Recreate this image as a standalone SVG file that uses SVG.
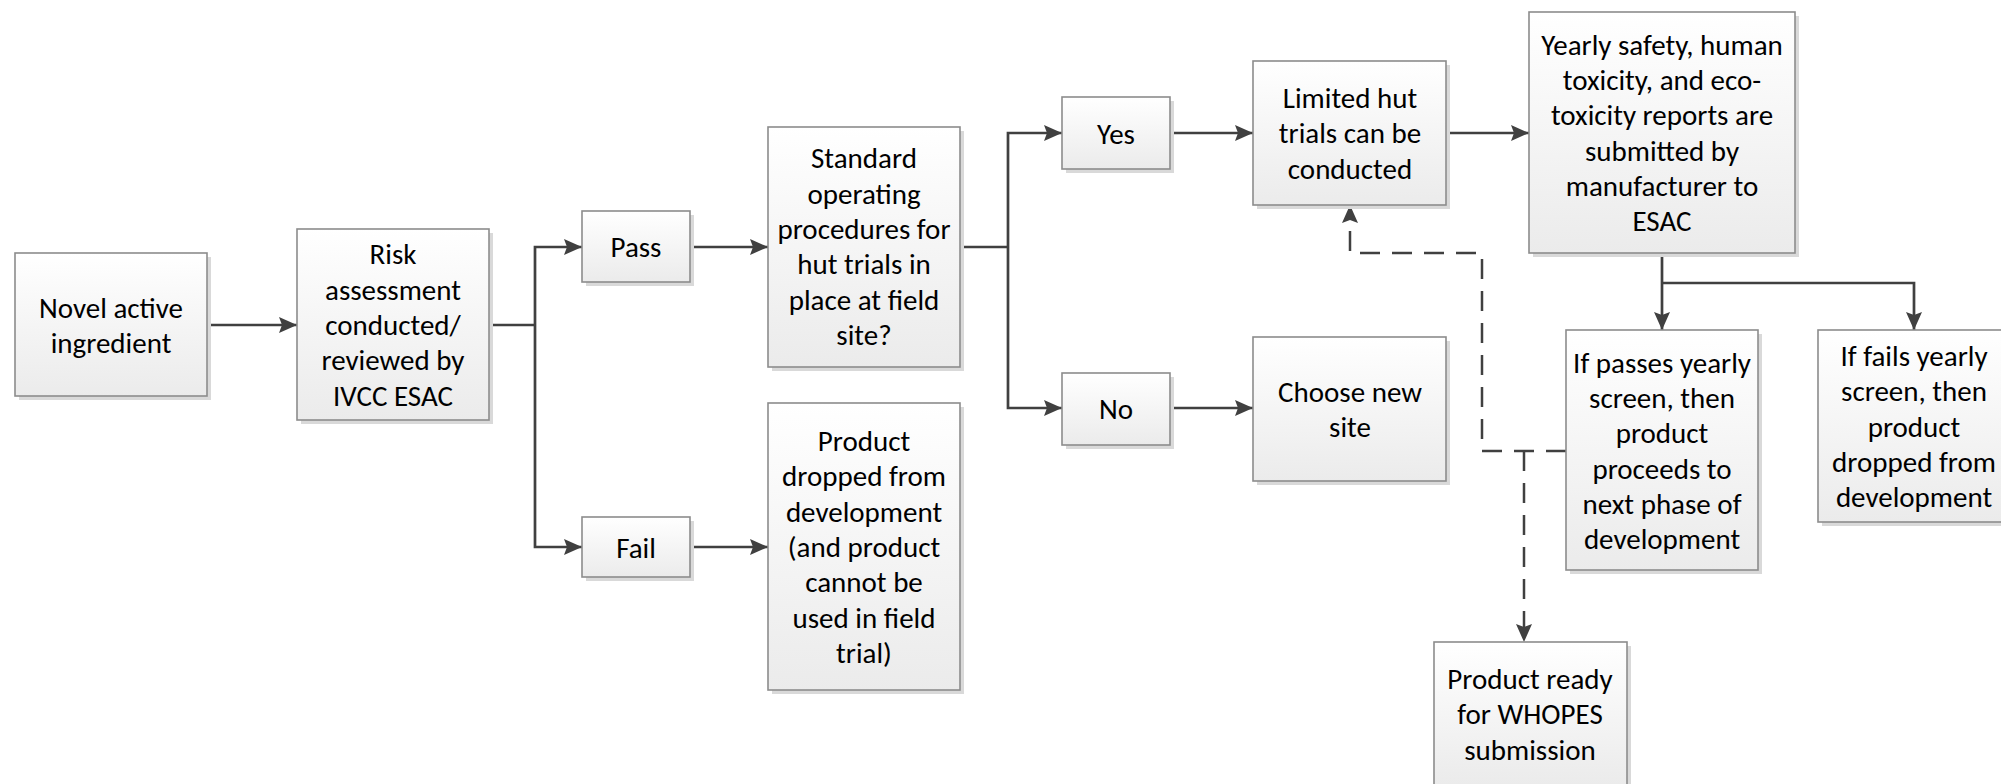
<svg xmlns="http://www.w3.org/2000/svg" width="2001" height="784" viewBox="0 0 2001 784">
  <defs>
    <linearGradient id="boxFill" x1="0" y1="0" x2="0" y2="1">
      <stop offset="0" stop-color="#ffffff"/>
      <stop offset="1" stop-color="#ebebeb"/>
    </linearGradient>
    <marker id="arrow" viewBox="0 0 18 16" refX="18" refY="8" markerWidth="18" markerHeight="16" markerUnits="userSpaceOnUse" orient="auto">
      <path d="M0,0 L18,8 L0,16 L3,8 Z" fill="#404040"/>
    </marker>
  </defs>
  <style>
    .shadow { fill: #d9d9d9; }
    .box { fill: url(#boxFill); stroke: #8c8c8c; stroke-width: 1.6; }
    .label { font-family: Carlito, Lato, "Open Sans", sans-serif; font-size: 29px; fill: #000000; text-anchor: middle; }
    .conn { fill: none; stroke: #404040; stroke-width: 2.7; }
    .dash { fill: none; stroke: #404040; stroke-width: 2.5; stroke-dasharray: 20 12; }
  </style>
  <rect width="2001" height="784" fill="#ffffff"/>

  <!-- connectors -->
  <g id="connectors">
    <path class="conn" d="M207,325 H297" marker-end="url(#arrow)"/>
    <path class="conn" d="M489,325 H535"/>
    <path class="conn" d="M535,325 V247 H582" marker-end="url(#arrow)"/>
    <path class="conn" d="M535,325 V547 H582" marker-end="url(#arrow)"/>
    <path class="conn" d="M690,247 H768" marker-end="url(#arrow)"/>
    <path class="conn" d="M690,547 H768" marker-end="url(#arrow)"/>
    <path class="conn" d="M960,247 H1008"/>
    <path class="conn" d="M1008,247 V133 H1062" marker-end="url(#arrow)"/>
    <path class="conn" d="M1008,247 V408 H1062" marker-end="url(#arrow)"/>
    <path class="conn" d="M1170,133 H1253" marker-end="url(#arrow)"/>
    <path class="conn" d="M1170,408 H1253" marker-end="url(#arrow)"/>
    <path class="conn" d="M1446,133 H1529" marker-end="url(#arrow)"/>
    <path class="conn" d="M1662,253 V330" marker-end="url(#arrow)"/>
    <path class="conn" d="M1662,283 H1914 V330" marker-end="url(#arrow)"/>
    <path class="dash" d="M1566,451 H1482 V253 H1350 V205" marker-end="url(#arrow)"/>
    <path class="dash" d="M1524,451 V642" marker-end="url(#arrow)"/>
  </g>

  <g id="novel">
    <rect class="shadow" x="19" y="257" width="192" height="143"/>
    <rect class="box" x="15" y="253" width="192" height="143"/>
    <text class="label"><tspan x="111" y="317.5">Novel active</tspan><tspan x="111" y="352.8">ingredient</tspan></text>
  </g>

  <g id="risk">
    <rect class="shadow" x="301" y="233" width="192" height="191"/>
    <rect class="box" x="297" y="229" width="192" height="191"/>
    <text class="label"><tspan x="393" y="264.4">Risk</tspan><tspan x="393" y="299.7">assessment</tspan><tspan x="393" y="335">conducted/</tspan><tspan x="393" y="370.3">reviewed by</tspan><tspan x="393" y="405.6">IVCC ESAC</tspan></text>
  </g>

  <g id="pass">
    <rect class="shadow" x="586" y="215" width="108" height="71"/>
    <rect class="box" x="582" y="211" width="108" height="71"/>
    <text class="label" x="636" y="257">Pass</text>
  </g>

  <g id="fail">
    <rect class="shadow" x="586" y="521" width="108" height="60"/>
    <rect class="box" x="582" y="517" width="108" height="60"/>
    <text class="label" x="636" y="557.5">Fail</text>
  </g>

  <g id="sop">
    <rect class="shadow" x="772" y="131" width="192" height="240"/>
    <rect class="box" x="768" y="127" width="192" height="240"/>
    <text class="label"><tspan x="864" y="168.3">Standard</tspan><tspan x="864" y="203.6">operating</tspan><tspan x="864" y="238.9">procedures for</tspan><tspan x="864" y="274.2">hut trials in</tspan><tspan x="864" y="309.5">place at field</tspan><tspan x="864" y="344.8">site?</tspan></text>
  </g>

  <g id="dropped">
    <rect class="shadow" x="772" y="407" width="192" height="287"/>
    <rect class="box" x="768" y="403" width="192" height="287"/>
    <text class="label"><tspan x="864" y="451.1">Product</tspan><tspan x="864" y="486.4">dropped from</tspan><tspan x="864" y="521.7">development</tspan><tspan x="864" y="557">(and product</tspan><tspan x="864" y="592.3">cannot be</tspan><tspan x="864" y="627.6">used in field</tspan><tspan x="864" y="662.9">trial)</tspan></text>
  </g>

  <g id="yes">
    <rect class="shadow" x="1066" y="101" width="108" height="72"/>
    <rect class="box" x="1062" y="97" width="108" height="72"/>
    <text class="label" x="1116" y="143.5">Yes</text>
  </g>

  <g id="no">
    <rect class="shadow" x="1066" y="377" width="108" height="72"/>
    <rect class="box" x="1062" y="373" width="108" height="72"/>
    <text class="label" x="1116" y="419">No</text>
  </g>

  <g id="limited">
    <rect class="shadow" x="1257" y="65" width="193" height="144"/>
    <rect class="box" x="1253" y="61" width="193" height="144"/>
    <text class="label"><tspan x="1350" y="107.9">Limited hut</tspan><tspan x="1350" y="143.2">trials can be</tspan><tspan x="1350" y="178.5">conducted</tspan></text>
  </g>

  <g id="newsite">
    <rect class="shadow" x="1257" y="341" width="193" height="144"/>
    <rect class="box" x="1253" y="337" width="193" height="144"/>
    <text class="label"><tspan x="1350" y="401.5">Choose new</tspan><tspan x="1350" y="436.8">site</tspan></text>
  </g>

  <g id="yearly">
    <rect class="shadow" x="1533" y="16" width="266" height="241"/>
    <rect class="box" x="1529" y="12" width="266" height="241"/>
    <text class="label"><tspan x="1662" y="54.7">Yearly safety, human</tspan><tspan x="1662" y="90">toxicity, and eco-</tspan><tspan x="1662" y="125.3">toxicity reports are</tspan><tspan x="1662" y="160.6">submitted by</tspan><tspan x="1662" y="195.9">manufacturer to</tspan><tspan x="1662" y="231.2">ESAC</tspan></text>
  </g>

  <g id="passes">
    <rect class="shadow" x="1570" y="334" width="192" height="240"/>
    <rect class="box" x="1566" y="330" width="192" height="240"/>
    <text class="label"><tspan x="1662" y="372.7">If passes yearly</tspan><tspan x="1662" y="408">screen, then</tspan><tspan x="1662" y="443.3">product</tspan><tspan x="1662" y="478.6">proceeds to</tspan><tspan x="1662" y="513.9">next phase of</tspan><tspan x="1662" y="549.2">development</tspan></text>
  </g>

  <g id="fails">
    <rect class="shadow" x="1822" y="334" width="192" height="192"/>
    <rect class="box" x="1818" y="330" width="192" height="192"/>
    <text class="label"><tspan x="1914" y="365.9">If fails yearly</tspan><tspan x="1914" y="401.2">screen, then</tspan><tspan x="1914" y="436.5">product</tspan><tspan x="1914" y="471.8">dropped from</tspan><tspan x="1914" y="507.1">development</tspan></text>
  </g>

  <g id="whopes">
    <rect class="shadow" x="1438" y="646" width="193" height="143"/>
    <rect class="box" x="1434" y="642" width="193" height="143"/>
    <text class="label"><tspan x="1530" y="688.9">Product ready</tspan><tspan x="1530" y="724.2">for WHOPES</tspan><tspan x="1530" y="759.5">submission</tspan></text>
  </g>
</svg>
